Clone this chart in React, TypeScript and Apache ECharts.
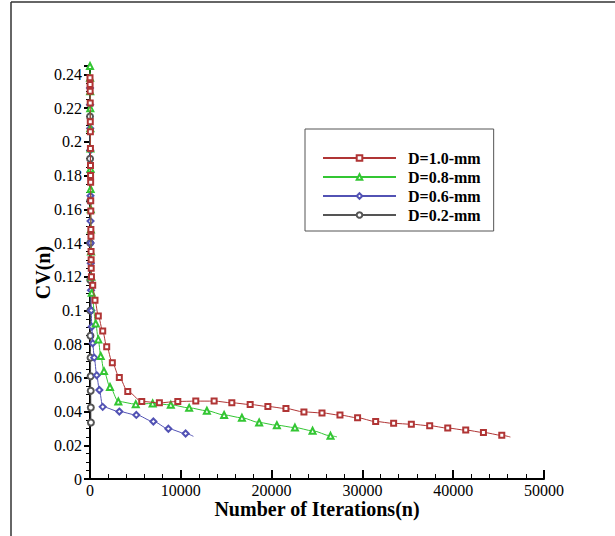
import React, { useEffect, useRef } from "react";
import * as echarts from "echarts";

const seriesNames = ["D=1.0-mm", "D=0.8-mm", "D=0.6-mm", "D=0.2-mm"];

const red1X = [0, 8, 16, 24, 32, 40, 48, 56, 64, 72, 80, 88, 96, 104, 115, 125, 135, 160, 300, 550, 915, 1400, 1840, 2460, 3230, 4160, 5700, 7640, 9670, 11650, 13670, 15620, 17640, 19590, 21580, 23560, 25550, 27530, 29470, 31460, 33440, 35390, 37410, 39400, 41380, 43330, 45350, 46300];
const red1Y = [0.238, 0.234, 0.23, 0.223, 0.212, 0.206, 0.196, 0.186, 0.18, 0.176, 0.165, 0.159, 0.148, 0.144, 0.135, 0.13, 0.125, 0.12, 0.115, 0.106, 0.0967, 0.0878, 0.0785, 0.069, 0.0602, 0.0519, 0.046, 0.0452, 0.046, 0.0462, 0.0462, 0.0452, 0.0442, 0.043, 0.0418, 0.0398, 0.0392, 0.0379, 0.0363, 0.0341, 0.033, 0.0325, 0.0316, 0.0302, 0.029, 0.0276, 0.0259, 0.0249];

const green08X = [0, 10, 20, 30, 40, 50, 60, 70, 80, 95, 110, 150, 190, 630, 915, 1180, 1540, 2200, 3120, 5040, 6900, 8900, 10920, 12870, 14770, 16730, 18630, 20580, 22570, 24510, 26490, 27200];
const green08Y = [0.245, 0.238, 0.23, 0.22, 0.208, 0.196, 0.184, 0.172, 0.16, 0.148, 0.135, 0.12, 0.1105, 0.0923, 0.0828, 0.073, 0.064, 0.0546, 0.046, 0.0444, 0.0448, 0.044, 0.0422, 0.0405, 0.038, 0.0363, 0.0335, 0.0319, 0.0305, 0.0286, 0.0256, 0.025];

const blue06X = [0, 10, 20, 30, 40, 50, 60, 70, 85, 110, 140, 190, 300, 470, 740, 1030, 1400, 3230, 5100, 6980, 8630, 10530, 11390];
const blue06Y = [0.232, 0.222, 0.208, 0.195, 0.182, 0.168, 0.153, 0.14, 0.128, 0.112, 0.1, 0.0903, 0.0805, 0.072, 0.0615, 0.0528, 0.0428, 0.04, 0.038, 0.0341, 0.0298, 0.027, 0.0253];

const gray02X = [0, 8, 16, 24, 32, 40, 50, 60, 70, 80, 90, 100];
const gray02Y = [0.215, 0.19, 0.165, 0.14, 0.118, 0.1, 0.085, 0.072, 0.061, 0.0523, 0.0424, 0.0335];

// whether the last point of each series is an unmarked line end
const openEnd = [true, true, true, false];

const xTickValues = [0, 10000, 20000, 30000, 40000, 50000];
const yTickValues = [0, 0.02, 0.04, 0.06, 0.08, 0.1, 0.12, 0.14, 0.16, 0.18, 0.2, 0.22, 0.24];

const colors = ["#b03535", "#33c633", "#5252b4", "#555555"];
const symbols = ["emptyRect", "emptyTriangle", "emptyDiamond", "emptyCircle"];
const symbolSizes = [5, 6, 6, 6];

const SERIF = "'Liberation Serif', 'Times New Roman', serif";

function buildData(xs: number[], ys: number[], open: boolean) {
  return xs.map((x, i) => {
    if (open && i === xs.length - 1) {
      return { value: [x, ys[i]], symbol: "none" };
    }
    return { value: [x, ys[i]] };
  });
}

export default function App() {
  const ref = useRef<HTMLDivElement>(null);

  useEffect(() => {
    if (!ref.current) return;
    const chart = echarts.init(ref.current, undefined, { renderer: "svg" });
    const allX = [red1X, green08X, blue06X, gray02X];
    const allY = [red1Y, green08Y, blue06Y, gray02Y];

    const series = seriesNames.map((name, i) => ({
      name,
      type: "line",
      data: buildData(allX[i], allY[i], openEnd[i]),
      smooth: 0.3,
      smoothMonotone: "x",
      symbol: symbols[i],
      symbolSize: symbolSizes[i],
      showAllSymbol: true,
      lineStyle: { color: colors[i], width: 1 },
      itemStyle: { color: colors[i], borderWidth: 1 },
      z: 4 - i,
    }));

    chart.setOption({
      animation: false,
      backgroundColor: "#ffffff",
      textStyle: { fontFamily: SERIF },
      grid: { left: 90, right: 71, top: 66, bottom: 57 },
      legend: {
        orient: "vertical",
        left: 305,
        top: 129,
        data: seriesNames,
        backgroundColor: "#ffffff",
        borderColor: "#555555",
        borderWidth: 1,
        borderRadius: 0,
        padding: [21, 13, 8, 17],
        itemWidth: 73,
        itemHeight: 7,
        itemGap: 3,
        textStyle: {
          fontFamily: SERIF,
          fontWeight: "bold",
          fontSize: 16,
          color: "#000",
          padding: [0, 0, 0, 7],
        },
      },
      xAxis: {
        type: "value",
        min: xTickValues[0],
        max: xTickValues[xTickValues.length - 1],
        interval: xTickValues[1] - xTickValues[0],
        name: "Number of Iterations(n)",
        nameLocation: "middle",
        nameGap: 20,
        nameMoveOverlap: false,
        nameTextStyle: { fontFamily: SERIF, fontWeight: "bold", fontSize: 20, color: "#000" },
        axisLine: { lineStyle: { color: "#000", width: 2 } },
        axisTick: { inside: true, length: 9, lineStyle: { color: "#000", width: 2 } },
        minorTick: { show: true, splitNumber: 5, length: 5, lineStyle: { color: "#000", width: 1 } },
        splitLine: { show: false },
        axisLabel: {
          fontFamily: SERIF,
          fontSize: 16,
          color: "#000",
          margin: 3,
          formatter: (v: number) => String(v),
        },
      },
      yAxis: {
        type: "value",
        min: 0,
        max: 0.245,
        interval: yTickValues[1] - yTickValues[0],
        name: "CV(n)",
        nameLocation: "middle",
        nameGap: 37,
        nameMoveOverlap: false,
        nameTextStyle: { fontFamily: SERIF, fontWeight: "bold", fontSize: 20, color: "#000" },
        axisLine: { lineStyle: { color: "#000", width: 2 } },
        axisTick: { inside: false, length: 6, lineStyle: { color: "#000", width: 2 } },
        minorTick: { show: true, splitNumber: 4, length: 4, lineStyle: { color: "#000", width: 1 } },
        splitLine: { show: false },
        axisLabel: {
          fontFamily: SERIF,
          fontSize: 16,
          color: "#000",
          margin: 8,
          formatter: (v: number) => {
            const match = yTickValues.find((t) => Math.abs(t - v) < 1e-9);
            return match === undefined ? "" : String(match);
          },
        },
      },
      graphic: [
        { type: "line", shape: { x1: 11, y1: 2, x2: 615, y2: 2 }, style: { stroke: "#333", lineWidth: 1.5 } },
        { type: "line", shape: { x1: 11, y1: 2, x2: 11, y2: 536 }, style: { stroke: "#333", lineWidth: 1.5 } },
      ],
      series,
    });
    return () => chart.dispose();
  }, []);

  return (
    <div
      ref={ref}
      style={{ position: "fixed", left: 0, top: 0, width: 615, height: 536, background: "#fff" }}
    />
  );
}
